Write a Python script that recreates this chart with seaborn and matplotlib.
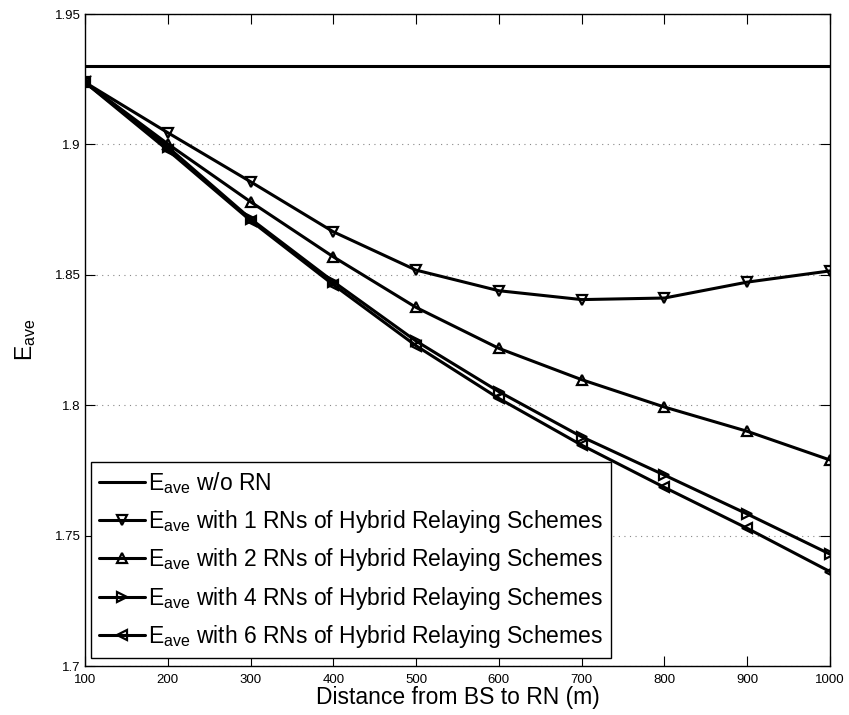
import matplotlib
matplotlib.use('Agg')
import matplotlib.pyplot as plt
import seaborn as sns
import pandas as pd

# datos
distancia = [100, 200, 300, 400, 500, 600, 700, 800, 900, 1000]
e_sin_rn = [1.930] * len(distancia)
e_1rn = [1.9238, 1.9045, 1.8857, 1.8665, 1.8518, 1.8439, 1.8405, 1.8411, 1.8472, 1.8515]
e_2rn = [1.9238, 1.9002, 1.8780, 1.8569, 1.8375, 1.8218, 1.8098, 1.7993, 1.7900, 1.7790]
e_4rn = [1.9238, 1.8990, 1.8715, 1.8474, 1.8246, 1.8052, 1.7879, 1.7732, 1.7583, 1.7429]
e_6rn = [1.9238, 1.8978, 1.8708, 1.8462, 1.8228, 1.8026, 1.7847, 1.7685, 1.7528, 1.7362]

etiquetas = [
    r'$\mathregular{E_{ave}}$ w/o RN',
    r'$\mathregular{E_{ave}}$ with 1 RNs of Hybrid Relaying Schemes',
    r'$\mathregular{E_{ave}}$ with 2 RNs of Hybrid Relaying Schemes',
    r'$\mathregular{E_{ave}}$ with 4 RNs of Hybrid Relaying Schemes',
    r'$\mathregular{E_{ave}}$ with 6 RNs of Hybrid Relaying Schemes',
]
series = [e_sin_rn, e_1rn, e_2rn, e_4rn, e_6rn]
marcadores = [None, 'v', '^', '>', '<']

sns.set_theme(style="ticks")
plt.rcParams['font.family'] = ['Liberation Sans', 'DejaVu Sans']
plt.rcParams['mathtext.fontset'] = 'custom'
plt.rcParams['mathtext.rm'] = 'Liberation Sans'
plt.rcParams['text.color'] = 'black'
plt.rcParams['axes.labelcolor'] = 'black'
plt.rcParams['xtick.labelcolor'] = 'black'
plt.rcParams['ytick.labelcolor'] = 'black'

fig = plt.figure(figsize=(8.49, 7.15), dpi=100)
ax = fig.add_axes([0.1001, 0.0685, 0.8775, 0.9119])

for vals, lab, mk in zip(series, etiquetas, marcadores):
    kw = {}
    if mk is not None:
        kw = dict(marker=mk, markersize=7, markerfacecolor='none',
                  markeredgecolor='black', markeredgewidth=1.6)
    sns.lineplot(x=distancia, y=vals, ax=ax, color='black', linewidth=2.2,
                 label=lab, **kw)

ax.set_xlim(100, 1000)
ax.set_ylim(1.7, 1.95)
ax.set_xticks(distancia)
ax.set_yticks([1.7, 1.75, 1.8, 1.85, 1.9, 1.95])
ax.set_yticklabels(['1.7', '1.75', '1.8', '1.85', '1.9', '1.95'])
ax.tick_params(direction='in', top=True, right=True, labelsize=9.5,
               length=7, width=0.8, color='black', labelcolor='black')
ax.tick_params(axis='x', pad=6)
ax.tick_params(axis='y', pad=3)
for s in ax.spines.values():
    s.set_linewidth(1.0)
    s.set_color('black')
ax.yaxis.grid(True, linestyle=(0, (1, 4)), color='#888888', linewidth=0.8)
ax.xaxis.grid(False)

ax.set_xlabel('Distance from BS to RN (m)', fontsize=16.5, labelpad=0, color='black')
ax.set_ylabel(r'$\mathregular{E_{ave}}$', fontsize=16.5, labelpad=12, color='black')

leg = ax.legend(loc='lower left', bbox_to_anchor=(0.008, 0.012), fontsize=16.5,
                frameon=True, fancybox=False, edgecolor='black', framealpha=1,
                handlelength=2.0, handletextpad=0.15, labelspacing=0.5,
                borderpad=0.35, borderaxespad=0, numpoints=1)
leg.get_frame().set_linewidth(1.0)
for t in leg.get_texts():
    t.set_color('black')

plt.savefig('out.png', dpi=100)
plt.close()
